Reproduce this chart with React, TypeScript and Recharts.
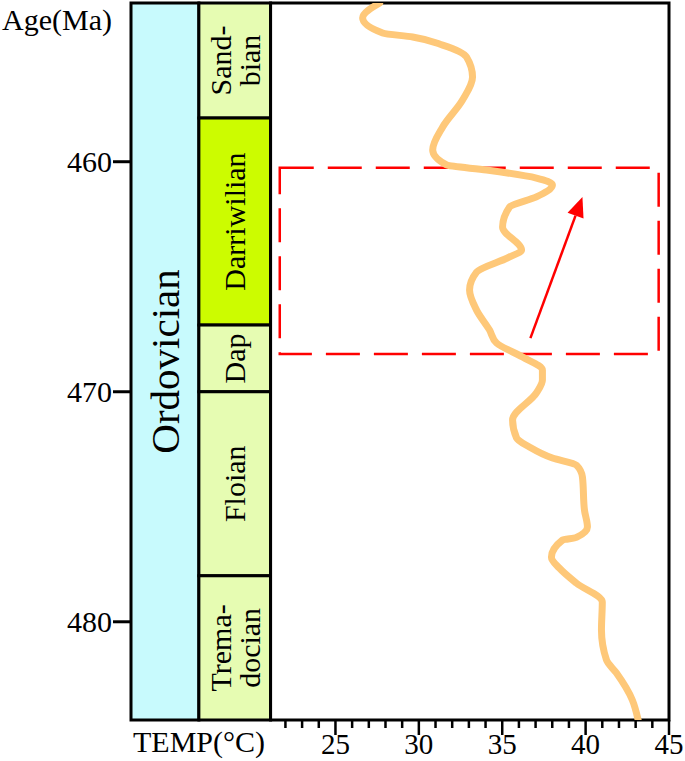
import React from "react";
import { Line, LineChart, ReferenceArea, ReferenceLine, XAxis, YAxis } from "recharts";

// temperature curve (top to bottom)
const ageMa = [
	453.1, 453.75, 454.4, 454.58, 454.93, 455.45, 456.32, 457.32, 458.49, 459.49,
	460.14, 460.36, 460.71, 461.01, 461.53, 461.97, 462.84, 463.84, 464.14, 464.8,
	465.58, 466.45, 467.32, 467.88, 468.49, 469.06, 469.49, 470.05, 471.23, 472.01,
	472.4, 472.88, 473.19, 473.71, 475.14, 475.88, 476.33, 476.45, 477.19, 477.67,
	478.32, 479.14, 480.36, 481.66, 482.22, 483.4, 484.27,
];
const tempC = [
	27.65, 26.63, 27.83, 29.63, 31.43, 32.86, 33.22, 32.62, 31.43, 30.83,
	31.66, 34.06, 37.05, 38.01, 37.05, 35.44, 35.02, 36.16, 35.44, 33.46,
	33.04, 33.46, 34.24, 34.66, 36.22, 37.41, 37.41, 37.05, 35.62, 35.86,
	36.63, 38.01, 39.45, 39.81, 39.93, 40.11, 39.45, 38.61, 37.95, 38.43,
	39.45, 41.0, 40.95, 41.25, 41.84, 42.8, 43.15,
];

const stageNames = [["Sand-", "bian"], ["Darriwilian"], ["Dap"], ["Floian"], ["Trema-", "docian"]];
const stageTop = [453.1, 458.1, 467.1, 470.0, 478.0];
const stageBase = [458.1, 467.1, 470.0, 478.0, 484.27];
const periodName = "Ordovician";

const ageTicks = [460, 470, 480];
const tempTicks = [22, 23, 24, 25, 26, 27, 28, 29, 30, 31, 32, 33, 34, 35, 36, 37, 38, 39, 40, 41, 42, 43, 44, 45];

// highlighted window and warming arrow
const boxTemp = [21.66, 44.38];
const boxAge = [460.26, 468.36];
const arrowTemp = [36.69, 39.81];
const arrowAge = [467.67, 461.53];

const data = ageMa.map((age, i) => ({ age, temp: tempC[i] }));

// x domain extends left of the temperature panel to hold the strat columns
const X_MIN = 12.74;
const X_COL = 16.81;
const X_PLOT = 21.11;
const X_MAX = 45;
const AGE_MIN = 453.1;
const AGE_MAX = 484.27;

const FONT = "'Liberation Serif', 'Times New Roman', serif";
const stageFill = ["#e6fcb2", "#ccfc00", "#e6fcb2", "#e6fcb2", "#e6fcb2"];

const cellShape = (lines: string[], fill: string, fontSize: number) => (p: any) => {
	const { x, y, width, height } = p;
	const cx = x + width / 2;
	const cy = y + height / 2;
	const gap = 29;
	return (
		<g>
			<rect x={x} y={y} width={width} height={height} fill={fill} stroke="#000" strokeWidth={3} />
			{lines.map((t, i) => {
				const bx = cx + fontSize * 0.35 + (i - (lines.length - 1) / 2) * gap;
				return (
					<text
						key={t}
						transform={`translate(${bx},${cy}) rotate(-90)`}
						textAnchor="middle"
						fontFamily={FONT}
						fontSize={fontSize}
						fill="#000"
					>
						{t}
					</text>
				);
			})}
		</g>
	);
};

const TempTick = (props: any) => {
	const { x, y, payload } = props;
	const v = payload.value;
	const major = v % 5 === 0;
	return (
		<g>
			<line x1={x} x2={x} y1={y} y2={y + (major ? 15 : 8)} stroke="#000" strokeWidth={2.5} />
			{major && (
				<text x={x} y={y + 34} textAnchor="middle" fontFamily={FONT} fontSize={29} fill="#000">
					{v}
				</text>
			)}
		</g>
	);
};

const AgeTick = (props: any) => {
	const { x, y, payload } = props;
	return (
		<g>
			<line x1={x - 18} x2={x} y1={y} y2={y} stroke="#000" strokeWidth={3} />
			<text x={x - 19} y={y + 10} textAnchor="end" fontFamily={FONT} fontSize={30} fill="#000">
				{payload.value}
			</text>
		</g>
	);
};

const arrowShape = (p: any) => {
	const { x1, y1, x2, y2 } = p;
	const dx = x2 - x1;
	const dy = y2 - y1;
	const len = Math.sqrt(dx * dx + dy * dy);
	const ux = dx / len;
	const uy = dy / len;
	const head = 20;
	const half = 8.5;
	const bx = x2 - ux * head;
	const by = y2 - uy * head;
	return (
		<g>
			<line x1={x1} y1={y1} x2={bx} y2={by} stroke="#ff0000" strokeWidth={2.5} />
			<polygon
				points={`${x2},${y2} ${bx - uy * half},${by + ux * half} ${bx + uy * half},${by - ux * half}`}
				fill="#ff0000"
			/>
		</g>
	);
};

export default function App() {
	return (
		<div style={{ position: "absolute", left: 0, top: 0, background: "#fff" }}>
			<LineChart
				width={685}
				height={761}
				layout="vertical"
				data={data}
				margin={{ top: 3, right: 16, bottom: 0, left: 0 }}
			>
				<XAxis
					type="number"
					dataKey="temp"
					domain={[X_MIN, X_MAX]}
					allowDataOverflow
					ticks={tempTicks}
					interval={0}
					tick={<TempTick />}
					tickLine={false}
					tickSize={0}
					tickMargin={0}
					axisLine={false}
					height={41}
					label={{
						content: () => (
							<text x={133} y={752} fontFamily={FONT} fontSize={30} fill="#000">
								TEMP(°C)
							</text>
						),
					}}
				/>
				<YAxis
					type="number"
					dataKey="age"
					domain={[AGE_MIN, AGE_MAX]}
					allowDataOverflow
					ticks={ageTicks}
					interval={0}
					tick={<AgeTick />}
					tickLine={false}
					tickSize={0}
					tickMargin={0}
					axisLine={false}
					width={131}
					label={{
						content: () => (
							<text x={2} y={30} fontFamily={FONT} fontSize={30} fill="#000">
								Age(Ma)
							</text>
						),
					}}
				/>
				<ReferenceArea
					x1={X_MIN}
					x2={X_COL}
					y1={AGE_MIN}
					y2={AGE_MAX}
					shape={cellShape([periodName], "#c8fafd", 41)}
				/>
				{stageNames.map((lines, i) => (
					<ReferenceArea
						key={lines.join("")}
						x1={X_COL}
						x2={X_PLOT}
						y1={stageTop[i]}
						y2={stageBase[i]}
						shape={cellShape(lines, stageFill[i], 30)}
					/>
				))}
				<ReferenceArea
					x1={X_PLOT}
					x2={X_MAX}
					y1={AGE_MIN}
					y2={AGE_MAX}
					fill="#fff"
					fillOpacity={1}
					stroke="#000"
					strokeWidth={3}
				/>
				<Line
					dataKey="temp"
					type="monotone"
					stroke="#fec879"
					strokeWidth={7}
					strokeLinecap="round"
					dot={false}
					isAnimationActive={false}
				/>
				<ReferenceArea
					x1={boxTemp[0]}
					x2={boxTemp[1]}
					y1={boxAge[0]}
					y2={boxAge[1]}
					fill="none"
					fillOpacity={0}
					stroke="#ff0000"
					strokeWidth={2.5}
					strokeDasharray="34 14"
				/>
				<ReferenceLine
					segment={[
						{ x: arrowTemp[0], y: arrowAge[0] },
						{ x: arrowTemp[1], y: arrowAge[1] },
					]}
					shape={arrowShape}
				/>
			</LineChart>
		</div>
	);
}
